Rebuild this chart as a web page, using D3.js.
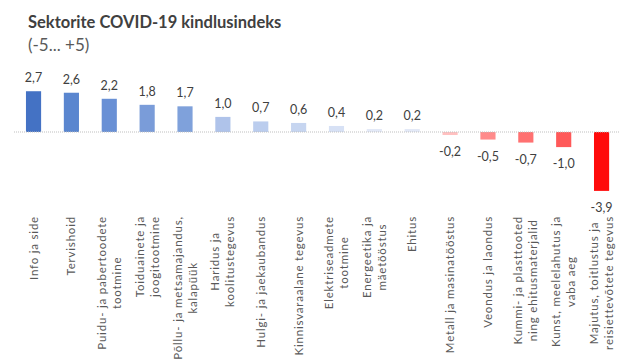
<!DOCTYPE html>
<html>
<head>
<meta charset="utf-8">
<script src="https://cdn.jsdelivr.net/npm/d3@7"></script>
<style>
  body { margin: 0; background: #fff; }
  svg text { font-family: Lato, "Open Sans", sans-serif; }
</style>
</head>
<body>
<svg id="chart" width="635" height="361"></svg>
<script>
// sectors (line breaks as in the original labels)
const sectors = [
    'Info ja side', 'Tervishoid', 'Puidu- ja pabertoodete\ntootmine', 'Toiduainete ja\njoogitootmine',
    'Põllu- ja metsamajandus,\nkalapüük', 'Haridus ja\nkoolitustegevus', 'Hulgi- ja jaekaubandus',
    'Kinnisvaraalane tegevus', 'Elektriseadmete\ntootmine', 'Energeetika ja\nmäetööstus', 'Ehitus',
    'Metall ja masinatööstus', 'Veondus ja laondus', 'Kummi- ja plasttooted\nning ehitusmaterjalid',
    'Kunst, meelelahutus ja\nvaba aeg', 'Majutus, toitlustus ja\nreisiettevõtete tegevus'
];
const indexValues = [2.7, 2.6, 2.2, 1.8, 1.7, 1.0, 0.7, 0.6, 0.4, 0.2, 0.2, -0.2, -0.5, -0.7, -1.0, -3.9];
const barColors = [
    '#4472c4', '#5a86cf', '#6990d5', '#7a9cd9', '#7fa1db', '#afc3ea', '#bbcdee', '#c6d5f0',
    '#d7e1f5', '#e3e9f7', '#e3e9f7', '#ffc0c0', '#ff8b8b', '#ff7171', '#ff5959', '#ff0b0b'
];

const svg = d3.select('#chart');

// --- Title ---
svg.append('text')
    .attr('x', 28).attr('y', 28)
    .attr('font-size', 16.5).attr('font-weight', 'bold').attr('fill', '#404040')
    .text('Sektorite COVID-19 kindlusindeks');
svg.append('text')
    .attr('x', 28).attr('y', 51)
    .attr('font-size', 17).attr('fill', '#595959')
    .text('(-5... +5)');

// --- Scales ---
const x = d3.scaleBand()
    .domain(sectors)
    .range([14.6, 620.5])
    .paddingInner(0.6).paddingOuter(0.3);

const y = d3.scaleLinear()
    .domain([-5, 5])
    .range([207.5, 56.5]);

// Bars
svg.selectAll('.bar')
    .data(indexValues)
    .join('rect')
    .attr('class', 'bar')
    .attr('x', (d, i) => x(sectors[i]))
    .attr('width', x.bandwidth())
    .attr('y', d => y(Math.max(0, d)))
    .attr('height', d => Math.abs(y(d) - y(0)))
    .attr('fill', (d, i) => barColors[i]);

// Zero line
svg.append('line')
    .attr('x1', 14).attr('x2', 620)
    .attr('y1', y(0)).attr('y2', y(0))
    .attr('stroke', '#bfbfbf').attr('stroke-width', 1)
    .attr('stroke-dasharray', '1,1');

// Value labels
const fmt = v => d3.format('.1f')(v).replace('.', ',').replace('−', '-');
svg.selectAll('.val')
    .data(indexValues)
    .join('text')
    .attr('class', 'val')
    .attr('x', (d, i) => x(sectors[i]) + x.bandwidth() / 2)
    .attr('y', d => d >= 0 ? y(d) - 9 : y(d) + 21)
    .attr('text-anchor', 'middle')
    .attr('font-size', 12.5).attr('fill', '#404040')
    .text(fmt);

// Category labels, rotated, top-aligned
const labelTop = 216;
const lineGap = 15;
sectors.forEach(s => {
    const lines = s.split('\n');
    const g = svg.append('g')
        .attr('transform', `translate(${x(s) + x.bandwidth() / 2},${labelTop}) rotate(-90)`);
    const texts = lines.map((ln, i) => g.append('text')
        .attr('y', (i - (lines.length - 1) / 2) * lineGap)
        .attr('dy', '0.35em')
        .attr('text-anchor', 'middle')
        .attr('font-size', 11.5).attr('letter-spacing', 0.8).attr('fill', '#595959')
        .text(ln));
    const maxW = d3.max(texts, t => t.node().getComputedTextLength());
    texts.forEach(t => t.attr('x', -maxW / 2));
});
</script>
</body>
</html>
